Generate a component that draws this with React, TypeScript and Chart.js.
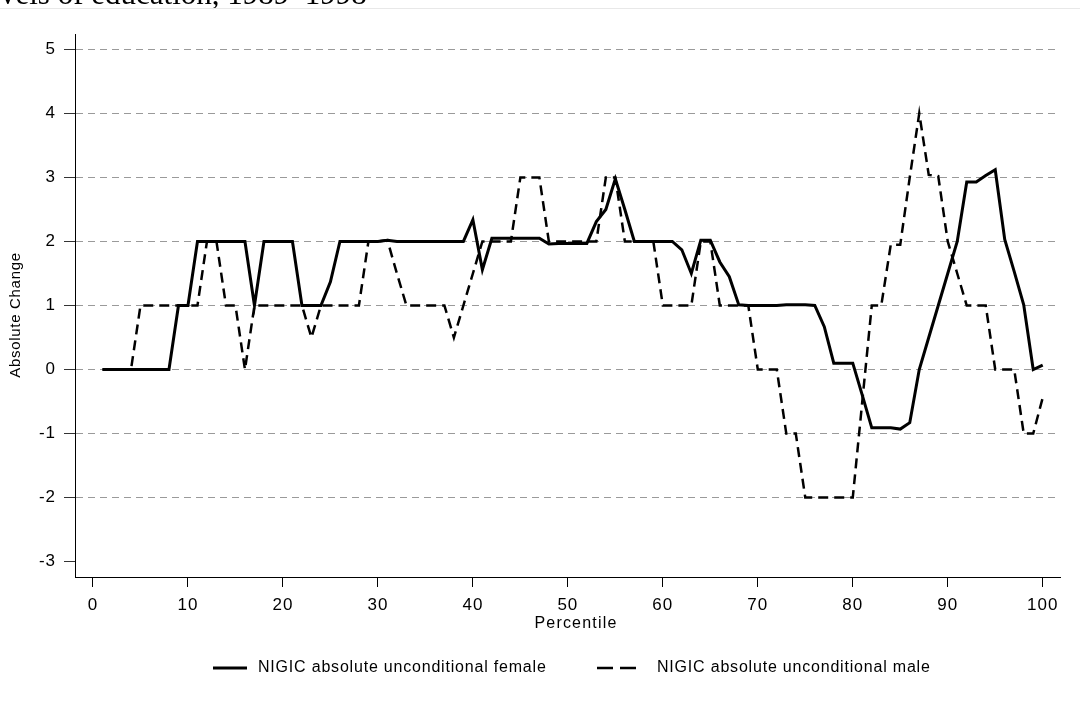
import React, { useEffect, useRef } from "react";
import { Chart, registerables } from "chart.js";

Chart.register(...registerables);

// Percentile positions 1..100
const percentiles: number[] = Array.from({ length: 100 }, (_, i) => i + 1);

const femaleValues: number[] = [
  0, 0, 0, 0, 0, 0, 0, 0, 1, 1,
  2, 2, 2, 2, 2, 2, 1, 2, 2, 2,
  2, 1, 1, 1, 1.37, 2, 2, 2, 2, 2,
  2.02, 2, 2, 2, 2, 2, 2, 2, 2, 2.34,
  1.56, 2.05, 2.05, 2.05, 2.05, 2.05, 2.05, 1.96, 1.97, 1.97,
  1.97, 1.97, 2.31, 2.5, 2.98, 2.5, 2, 2, 2, 2,
  2, 1.87, 1.5, 2.02, 2.02, 1.68, 1.45, 1.01, 1, 1,
  1, 1, 1.01, 1.01, 1.01, 1, 0.67, 0.1, 0.1, 0.1,
  -0.4, -0.91, -0.91, -0.91, -0.93, -0.83, 0, 0.5, 1, 1.5,
  2, 2.93, 2.93, 3.03, 3.12, 2.03, 1.53, 1.01, 0, 0.07,
];

const maleValues: number[] = [
  0, 0, 0, 0, 1, 1, 1, 1, 1, 1,
  1, 2, 2, 1, 1, 0, 1, 1, 1, 1,
  1, 1, 0.5, 1, 1, 1, 1, 1, 2, 2,
  2.02, 1.5, 1, 1, 1, 1, 1, 0.5, 1, 1.5,
  2, 2, 2, 2, 3, 3, 3, 2, 2, 2,
  2, 2, 2, 3, 3, 2, 2, 2, 2, 1,
  1, 1, 1, 2, 2, 1, 1, 1, 1, 0,
  0, 0, -1, -1, -2, -2, -2, -2, -2, -2,
  -0.5, 1, 1, 1.95, 1.95, 3, 4, 3.04, 3.02, 2,
  1.5, 1, 1, 1, 0, 0, 0, -1, -1, -0.44,
];

const xTickValues: number[] = [0, 10, 20, 30, 40, 50, 60, 70, 80, 90, 100];
const yTickValues: number[] = [-3, -2, -1, 0, 1, 2, 3, 4, 5];

const seriesLabels: string[] = [
  "NIGIC absolute unconditional female",
  "NIGIC absolute unconditional male",
];
const xTitle = "Percentile";
const yTitle = "Absolute Change";
const topFragment = "vels of education, 1989\u20131998";

const FONT = "'Liberation Sans', Arial, Helvetica, sans-serif";

const overlayPlugin = {
  id: "overlayText",
  beforeDraw(chart: any) {
    (chart.ctx as any).letterSpacing = "1px";
  },
  afterDraw(chart: any) {
    const ctx = chart.ctx as CanvasRenderingContext2D;
    ctx.save();
    (ctx as any).letterSpacing = "1.2px";
    ctx.fillStyle = "#000";
    ctx.font = `16px ${FONT}`;
    ctx.textAlign = "center";
    ctx.textBaseline = "middle";
    ctx.fillText(xTitle, 576, 624);

    ctx.save();
    (ctx as any).letterSpacing = "0.7px";
    ctx.translate(16, 315);
    ctx.rotate(-Math.PI / 2);
    ctx.font = `15px ${FONT}`;
    ctx.fillText(yTitle, 0, 0);
    ctx.restore();

    // legend
    const ly = 668;
    ctx.strokeStyle = "#000";
    ctx.lineWidth = 3;
    ctx.setLineDash([]);
    ctx.beginPath();
    ctx.moveTo(213, ly);
    ctx.lineTo(247, ly);
    ctx.stroke();

    ctx.lineWidth = 2.5;
    ctx.setLineDash([16, 7]);
    ctx.beginPath();
    ctx.moveTo(597, ly);
    ctx.lineTo(636, ly);
    ctx.stroke();
    ctx.setLineDash([]);

    (ctx as any).letterSpacing = "0.8px";
    ctx.font = `16px ${FONT}`;
    ctx.textAlign = "left";
    ctx.fillText(seriesLabels[0], 258, ly);
    ctx.fillText(seriesLabels[1], 657, ly);
    ctx.restore();
    (ctx as any).letterSpacing = "0px";
  },
};

function ChartView() {
  const canvasRef = useRef<HTMLCanvasElement | null>(null);

  useEffect(() => {
    const canvas = canvasRef.current;
    if (!canvas) return;
    const chart = new Chart(canvas, {
      type: "line",
      data: {
        datasets: [
          {
            label: seriesLabels[0],
            data: femaleValues.map((v, i) => ({ x: percentiles[i], y: v })),
            borderColor: "#000",
            borderWidth: 3,
            pointRadius: 0,
            tension: 0,
            fill: false,
          },
          {
            label: seriesLabels[1],
            data: maleValues.map((v, i) => ({ x: percentiles[i], y: v })),
            borderColor: "#000",
            borderWidth: 2.5,
            borderDash: [10, 6],
            pointRadius: 0,
            tension: 0,
            fill: false,
          },
        ],
      },
      options: {
        responsive: false,
        devicePixelRatio: 1,
        animation: false,
        layout: { padding: { top: 34, right: 20, left: 0, bottom: 0 } },
        plugins: {
          legend: { display: false },
          tooltip: { enabled: false },
        },
        scales: {
          x: {
            type: "linear",
            min: -1.895,
            max: 101.82,
            afterBuildTicks: (s: any) => {
              s.ticks = xTickValues.map((v) => ({ value: v }));
            },
            afterFit: (s: any) => {
              s.height = 141;
            },
            border: { display: true, color: "#000", width: 1 },
            grid: {
              display: true,
              drawOnChartArea: false,
              drawTicks: true,
              tickLength: 10,
              tickColor: "#000",
              tickWidth: 1,
            },
            ticks: {
              autoSkip: false,
              maxRotation: 0,
              color: "#000",
              padding: 8,
              font: { family: FONT, size: 17 },
            },
          },
          y: {
            type: "linear",
            min: -3.24,
            max: 5.24,
            afterBuildTicks: (s: any) => {
              s.ticks = yTickValues.map((v) => ({ value: v }));
            },
            afterFit: (s: any) => {
              s.width = 75;
            },
            border: { display: true, color: "#000", width: 1, dash: [7, 5] },
            grid: {
              display: true,
              drawOnChartArea: true,
              drawTicks: true,
              tickLength: 11,
              color: (c: any) =>
                c.tick && c.tick.value === -3 ? "rgba(0,0,0,0)" : "#9a9a9a",
              tickColor: "#333",
              tickWidth: 1,
              lineWidth: 1,
            },
            ticks: {
              color: "#000",
              padding: 8,
              font: { family: FONT, size: 17 },
            },
          },
        },
      },
      plugins: [overlayPlugin],
    });
    return () => chart.destroy();
  }, []);

  return (
    <canvas
      ref={canvasRef}
      width={1080}
      height={718}
      style={{ display: "block", width: 1080, height: 718 }}
    />
  );
}

export default function App() {
  return (
    <div
      style={{
        position: "absolute",
        left: 0,
        top: 0,
        width: 1080,
        height: 718,
        background: "#fff",
        overflow: "hidden",
      }}
    >
      <ChartView />
      <div
        style={{
          position: "absolute",
          left: 0,
          top: -22,
          fontFamily: "'Liberation Serif', 'Times New Roman', serif",
          fontSize: 31,
          lineHeight: "31px",
          whiteSpace: "nowrap",
          color: "#000",
        }}
      >
        {topFragment}
      </div>
      <div
        style={{
          position: "absolute",
          left: 0,
          top: 8,
          width: 1080,
          height: 1,
          background: "#e8e8e8",
        }}
      />
    </div>
  );
}
